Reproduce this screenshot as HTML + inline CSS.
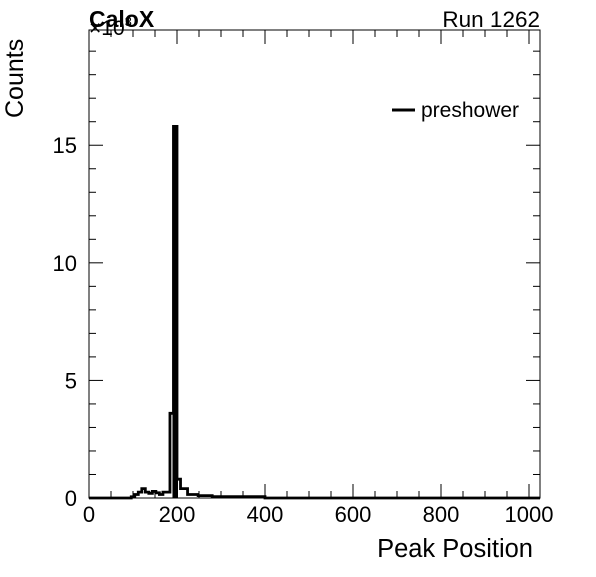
<!DOCTYPE html>
<html><head><meta charset="utf-8"><style>
body{margin:0;background:#fff;}
svg text{font-family:"Liberation Sans",Arial,sans-serif;}
</style></head><body>
<svg id="c" width="596" height="572" xmlns="http://www.w3.org/2000/svg">
<rect width="596" height="572" fill="#fff"/>
<g id="ticks"></g>
<path id="hist" fill="none" stroke="#000" stroke-width="2.8"/>
<g id="fills"></g>
<rect x="89" y="30" width="451" height="468" fill="none" stroke="#000" stroke-width="1"/>
<text x="89" y="35" font-size="21">×10<tspan font-size="13" dy="-9">3</tspan></text>
<text x="89" y="27" font-size="23" font-weight="bold">CaloX</text>
<text x="540" y="27" font-size="22.5" text-anchor="end">Run 1262</text>
<text transform="translate(23,118) rotate(-90)" font-size="25">Counts</text>
<text x="533" y="557" font-size="25.5" text-anchor="end">Peak Position</text>
<line x1="392" y1="110" x2="415" y2="110" stroke="#000" stroke-width="3"/>
<text x="421" y="117" font-size="21">preshower</text>
</svg>
<script>
const binStart = 96;
const binWidth = 8;
const counts = [0.05,0.15,0.25,0.4,0.25,0.2,0.28,0.22,0.15,0.25,0.25,3.6,15.8,0.8,0.4,0.4,0.15,0.15,0.15,0.1,0.1,0.1,0.1,0.06,0.06,0.06,0.06,0.06,0.06,0.06,0.06,0.06,0.06,0.06,0.06,0.06,0.06,0.06];
const xTicks = [0,200,400,600,800,1000];
const yTicks = [0,5,10,15];
const X0=89,X1=540,Y0=498,Y1=30,XMAX=1025,YMAX=19.9;
const sx=v=>X0+v/XMAX*(X1-X0);
const sy=v=>Y0-v/YMAX*(Y0-Y1);
const NS="http://www.w3.org/2000/svg";
let d=`M${X0},${Y0} L${sx(binStart)},${Y0}`;
const fills=document.getElementById('fills');
counts.forEach((c,i)=>{
  const a=sx(binStart+i*binWidth), b=sx(binStart+(i+1)*binWidth);
  d+=` L${a},${sy(c)} L${b},${sy(c)}`;
  if(c>5){
    const r=document.createElementNS(NS,'rect');
    r.setAttribute('x',a-1);r.setAttribute('y',sy(c));r.setAttribute('width',b-a+2);r.setAttribute('height',Y0-sy(c));
    r.setAttribute('fill','#000');
    
    
    fills.appendChild(r);
  }
});
d+=` L${sx(binStart+counts.length*binWidth)},${Y0} L${X1},${Y0}`;
document.getElementById('hist').setAttribute('d',d);
const g=document.getElementById('ticks');
function line(x1,y1,x2,y2){const l=document.createElementNS(NS,'line');l.setAttribute('x1',x1);l.setAttribute('y1',y1);l.setAttribute('x2',x2);l.setAttribute('y2',y2);l.setAttribute('stroke','#000');l.setAttribute('stroke-width','1');


g.appendChild(l);}
for(let v=0;v<=XMAX;v+=50){const x=sx(v),L=(v%200===0)?14:7;line(x,Y0,x,Y0-L);line(x,Y1,x,Y1+L);}
for(let v=0;v<=YMAX;v+=1){const y=sy(v),L=(v%5===0)?14:7;line(X0,y,X0+L,y);line(X1,y,X1-L,y);}
xTicks.forEach(v=>{const t=document.createElementNS(NS,'text');t.setAttribute('x',sx(v));t.setAttribute('y',522);t.setAttribute('font-size','22');t.setAttribute('text-anchor','middle');t.textContent=v;


g.appendChild(t);});
yTicks.forEach(v=>{const t=document.createElementNS(NS,'text');t.setAttribute('x',77);t.setAttribute('y',sy(v)+8);t.setAttribute('font-size','22');t.setAttribute('text-anchor','end');t.textContent=v;


g.appendChild(t);});
</script>
</body></html>
